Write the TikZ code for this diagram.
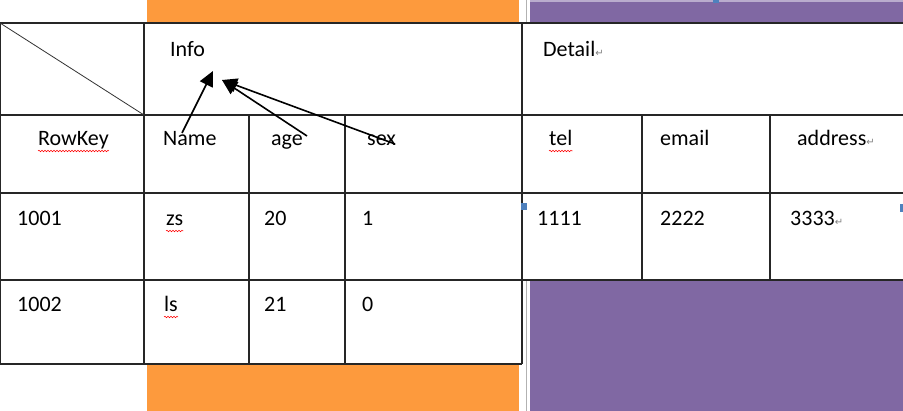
\documentclass[tikz,border=0pt]{standalone}
\usepackage{fontspec}
\setmainfont{Carlito}
\newfontfamily\markfont{DejaVu Sans}
\usepackage{tikz}
\usetikzlibrary{calc}
\usetikzlibrary{positioning}
\usetikzlibrary{arrows.meta}
\usetikzlibrary{decorations.pathmorphing}
\definecolor{bandorange}{RGB}{253,154,61}
\definecolor{bandpurple}{RGB}{128,104,163}
\definecolor{handleblue}{RGB}{79,129,189}
\newcommand{\retmark}{{\color{gray}\markfont\fontsize{10}{12}\selectfont ↵}}

\begin{document}
\begin{tikzpicture}[x=1pt,y=-1pt]
\tikzstyle{txt}=[anchor=base west,inner sep=0pt,font=\fontsize{22}{26}\selectfont,text=black]
\tikzstyle{grid}=[line width=1.2pt,draw=black!85]
\tikzstyle{arr}=[line width=1.6pt,-{Triangle[length=15pt,width=14pt]}]
\tikzstyle{spell}=[red,line width=0.5pt,decorate,decoration={snake,segment length=3pt,amplitude=0.8pt}]
\useasboundingbox (0,0) rectangle (903,411);
% colour bands behind the table
\fill[bandorange] (147,0) rectangle (519,411);
\fill[bandpurple] (530,0) rectangle (903,23);
\fill[bandpurple!55] (530,0) rectangle (903,2);
\fill[bandpurple] (530,280) rectangle (903,411);
\draw[gray!60,line width=0.8pt] (526,0) -- (526,23) (526,280) -- (526,411);
\fill[white] (0,23) rectangle (903,280);
\fill[white] (0,280) rectangle (522,364);
% table lines
\draw[grid] (0,23) -- (903,23) (0,115) -- (903,115) (0,193) -- (903,193) (0,280) -- (903,280) (0,364) -- (522,364);
\draw[grid] (0,23) -- (0,364) (144,23) -- (144,364) (522,23) -- (522,364);
\draw[grid] (249,115) -- (249,364) (345,115) -- (345,364);
\draw[grid] (642,115) -- (642,280) (770,115) -- (770,280);
\draw[line width=0.8pt,black!80] (0,23) -- (144,115);
% headers
\node[txt] (info) at (170,57) {Info};
\node[txt] (detail) at (543,57) {Detail\retmark};
\node[txt] (rowkey) at (38,146) {RowKey};
\node[txt] (name) at (163,146) {Name};
\node[txt] (age) at (271,146) {age};
\node[txt] (sex) at (367,146) {sex};
\node[txt] (tel) at (549,146) {tel};
\node[txt] (email) at (660,146) {email};
\node[txt] (address) at (797,146) {address\retmark};
% row 1001
\node[txt] (keyA) at (17,226) {1001};
\node[txt] (nameA) at (166,226) {zs};
\node[txt] (ageA) at (264,226) {20};
\node[txt] (sexA) at (362,226) {1};
\node[txt] (telA) at (537,226) {1111};
\node[txt] (emailA) at (660,226) {2222};
\node[txt] (addrA) at (790,226) {3333\retmark};
% row 1002
\node[txt] (keyB) at (17,312) {1002};
\node[txt] (nameB) at (164,312) {ls};
\node[txt] (ageB) at (264,312) {21};
\node[txt] (sexB) at (362,312) {0};
% spell check marks
\draw[spell] ($(rowkey.base west)+(0,5)$) -- ($(rowkey.base east)+(0,5)$);
\draw[spell] ($(tel.base west)+(0,5)$) -- ($(tel.base east)+(0,5)$);
\draw[spell] ($(nameA.base west)+(0,5)$) -- ($(nameA.base east)+(0,5)$);
\draw[spell] ($(nameB.base west)+(0,5)$) -- ($(nameB.base east)+(0,5)$);
% arrows into Info
\coordinate (tipA) at (213,71);
\coordinate (tipB) at (222,80);
\coordinate (nameTail) at (182,133);
\coordinate (ageTail) at (307,136);
\coordinate (sexTail) at (395,144);
\draw[arr] (nameTail) -- (tipA);
\draw[arr] (ageTail) -- (tipB);
\draw[arr] (sexTail) -- (tipB);
% selection handles
\fill[handleblue] (521,203) rectangle (527,210);
\fill[handleblue] (713,0) rectangle (719,3);
\fill[handleblue] (900,204) rectangle (903,212);
\end{tikzpicture}
\end{document}
